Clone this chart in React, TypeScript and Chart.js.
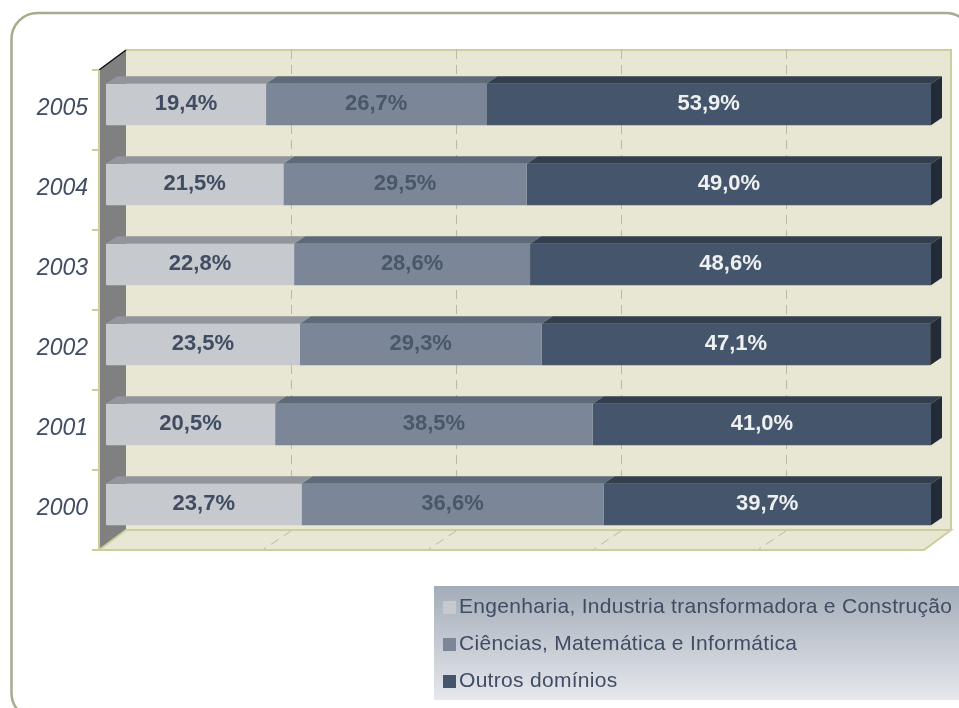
import { useEffect, useRef } from "react";
import { Chart, registerables } from "chart.js";

Chart.register(...registerables);

const categories = ["2005", "2004", "2003", "2002", "2001", "2000"];
const engenharia = [19.4, 21.5, 22.8, 23.5, 20.5, 23.7];
const ciencias = [26.7, 29.5, 28.6, 29.3, 38.5, 36.6];
const outros = [53.9, 49.0, 48.6, 47.1, 41.0, 39.7];
const seriesNames = [
  "Engenharia, Industria transformadora e Construção",
  "Ciências, Matemática e Informática",
  "Outros domínios",
];
const gridValues = [20, 40, 60, 80];

const FRONT_COLORS = ["#c6c9cd", "#7b8799", "#45556b"];
const TOP_COLORS = ["#929599", "#5f6a79", "#343f4e"];
const SIDE_COLORS = ["#6e7174", "#4a5360", "#232b36"];
const LABEL_COLORS = ["#3f4c62", "#4a566a", "#eef0f2"];

const FRONT = { dx: -7, dy: 5.5 };
const DEPTH = { dx: 27, dy: -20 };
const BAR_DEPTH = { dx: 11, dy: -7.5 };

const FONT = "'Liberation Sans', Arial, sans-serif";
const KHAKI = "#cdcd9e";
const CREAM = "#e8e7d4";

const fmt = (v: number) => v.toFixed(1).replace(".", ",") + "%";

const threeD = {
  id: "threeD",
  beforeDraw(chart: any) {
    const ctx = chart.ctx as CanvasRenderingContext2D;
    ctx.save();
    ctx.strokeStyle = "#a9ab8e";
    ctx.lineWidth = 2.5;
    const fx = 11.5, fy = 13, fw = 972 - 11.5, fh = 719 - 13, r = 26;
    ctx.beginPath();
    ctx.moveTo(fx + r, fy);
    ctx.lineTo(fx + fw - r, fy);
    ctx.arcTo(fx + fw, fy, fx + fw, fy + r, r);
    ctx.lineTo(fx + fw, fy + fh - r);
    ctx.arcTo(fx + fw, fy + fh, fx + fw - r, fy + fh, r);
    ctx.lineTo(fx + r, fy + fh);
    ctx.arcTo(fx, fy + fh, fx, fy + fh - r, r);
    ctx.lineTo(fx, fy + r);
    ctx.arcTo(fx, fy, fx + r, fy, r);
    ctx.closePath();
    ctx.stroke();
    ctx.restore();
  },
  beforeDatasetsDraw(chart: any) {
    const ctx = chart.ctx as CanvasRenderingContext2D;
    const ca = chart.chartArea;
    const xs = chart.scales.x;
    const ys = chart.scales.y;
    const x0 = xs.getPixelForValue(0) + FRONT.dx;
    const x100 = xs.getPixelForValue(100) + FRONT.dx;
    const yTop = ca.top + FRONT.dy;
    const yBot = ca.bottom + FRONT.dy;
    const bx0 = x0 + DEPTH.dx;
    const bx100 = x100 + DEPTH.dx;
    const byTop = yTop + DEPTH.dy;
    const byBot = yBot + DEPTH.dy;

    ctx.save();
    ctx.fillStyle = CREAM;
    ctx.fillRect(bx0, byTop, bx100 - bx0, byBot - byTop);
    ctx.strokeStyle = KHAKI;
    ctx.lineWidth = 2;
    ctx.beginPath();
    ctx.moveTo(bx0, byTop);
    ctx.lineTo(bx100, byTop);
    ctx.lineTo(bx100, byBot);
    ctx.stroke();

    ctx.strokeStyle = "#b9b9a6";
    ctx.lineWidth = 1;
    ctx.setLineDash([9, 6]);
    for (const v of gridValues) {
      const gx = Math.round(xs.getPixelForValue(v) + FRONT.dx + DEPTH.dx) + 0.5;
      ctx.beginPath();
      ctx.moveTo(gx, byTop);
      ctx.lineTo(gx, byBot);
      ctx.stroke();
    }
    ctx.setLineDash([]);

    ctx.fillStyle = "#808080";
    ctx.beginPath();
    ctx.moveTo(x0, yTop);
    ctx.lineTo(bx0, byTop);
    ctx.lineTo(bx0, byBot);
    ctx.lineTo(x0, yBot);
    ctx.closePath();
    ctx.fill();
    ctx.strokeStyle = "#111111";
    ctx.lineWidth = 1.5;
    ctx.beginPath();
    ctx.moveTo(x0, yTop);
    ctx.lineTo(bx0, byTop);
    ctx.stroke();

    ctx.fillStyle = CREAM;
    ctx.beginPath();
    ctx.moveTo(x0, yBot);
    ctx.lineTo(bx0, byBot);
    ctx.lineTo(bx100, byBot);
    ctx.lineTo(x100, yBot);
    ctx.closePath();
    ctx.fill();
    ctx.strokeStyle = KHAKI;
    ctx.lineWidth = 2;
    ctx.stroke();

    ctx.strokeStyle = "#b9b9a6";
    ctx.lineWidth = 1;
    ctx.setLineDash([9, 6]);
    for (const v of gridValues) {
      const gx = xs.getPixelForValue(v) + FRONT.dx;
      ctx.beginPath();
      ctx.moveTo(gx + DEPTH.dx, byBot + 1);
      ctx.lineTo(gx, yBot - 1);
      ctx.stroke();
    }
    ctx.setLineDash([]);

    ctx.strokeStyle = KHAKI;
    ctx.lineWidth = 2;
    ctx.beginPath();
    ctx.moveTo(x0, yTop);
    ctx.lineTo(x0, yBot);
    ctx.stroke();
    const half = (ys.getPixelForValue(1) - ys.getPixelForValue(0)) / 2;
    for (let i = 0; i <= categories.length; i++) {
      const ty = ys.getPixelForValue(0) - half + i * 2 * half + FRONT.dy;
      ctx.beginPath();
      ctx.moveTo(x0 - 7, ty);
      ctx.lineTo(x0, ty);
      ctx.stroke();
    }

    ctx.fillStyle = "#3f4c62";
    ctx.font = `italic 23px ${FONT}`;
    ctx.textAlign = "right";
    ctx.textBaseline = "middle";
    chart.data.labels.forEach((lab: string, i: number) => {
      ctx.fillText(lab, x0 - 11, ys.getPixelForValue(i) + FRONT.dy - 1);
    });
    ctx.restore();
  },
  afterDatasetsDraw(chart: any) {
    const ctx = chart.ctx as CanvasRenderingContext2D;
    const n = chart.data.datasets.length;
    ctx.save();
    for (let d = 0; d < n; d++) {
      const meta = chart.getDatasetMeta(d);
      meta.data.forEach((el: any) => {
        const left = Math.min(el.base, el.x);
        const right = Math.max(el.base, el.x);
        const top = el.y - el.height / 2;
        const bottom = el.y + el.height / 2;
        ctx.fillStyle = TOP_COLORS[d];
        ctx.beginPath();
        ctx.moveTo(left, top);
        ctx.lineTo(right, top);
        ctx.lineTo(right + BAR_DEPTH.dx, top + BAR_DEPTH.dy);
        ctx.lineTo(left + BAR_DEPTH.dx, top + BAR_DEPTH.dy);
        ctx.closePath();
        ctx.fill();
        if (d === n - 1) {
          ctx.fillStyle = SIDE_COLORS[d];
          ctx.beginPath();
          ctx.moveTo(right, top);
          ctx.lineTo(right + BAR_DEPTH.dx, top + BAR_DEPTH.dy);
          ctx.lineTo(right + BAR_DEPTH.dx, bottom + BAR_DEPTH.dy);
          ctx.lineTo(right, bottom);
          ctx.closePath();
          ctx.fill();
        }
      });
    }
    ctx.font = `bold 22px ${FONT}`;
    ctx.textAlign = "center";
    ctx.textBaseline = "middle";
    for (let d = 0; d < n; d++) {
      const meta = chart.getDatasetMeta(d);
      const vals = chart.data.datasets[d].data as number[];
      meta.data.forEach((el: any, i: number) => {
        ctx.fillStyle = LABEL_COLORS[d];
        ctx.fillText(fmt(vals[i]), (el.base + el.x) / 2, el.y - 1);
      });
    }
    ctx.restore();
  },
  afterDraw(chart: any) {
    const ctx = chart.ctx as CanvasRenderingContext2D;
    ctx.save();
    const lx = 434, ly = 586, lw = 959 - 434, lh = 114;
    const g = ctx.createLinearGradient(0, ly, 0, ly + lh);
    g.addColorStop(0, "#a3acb9");
    g.addColorStop(1, "#e6e8ec");
    ctx.fillStyle = g;
    ctx.fillRect(lx, ly, lw, lh);
    ctx.font = `21px ${FONT}`;
    (ctx as any).letterSpacing = "0.3px";
    ctx.textAlign = "left";
    ctx.textBaseline = "middle";
    chart.data.datasets.forEach((ds: any, i: number) => {
      const cy = 607.5 + i * 37;
      ctx.fillStyle = ds.backgroundColor;
      ctx.fillRect(443, cy - 6.5, 13, 13);
      ctx.fillStyle = "#3f4c62";
      ctx.fillText(ds.label, 459, cy);
    });
    ctx.restore();
  },
};

export default function App() {
  const ref = useRef<HTMLCanvasElement | null>(null);
  useEffect(() => {
    if (!ref.current) return;
    const series = [engenharia, ciencias, outros];
    const chart = new Chart(ref.current, {
      type: "bar",
      data: {
        labels: categories,
        datasets: series.map((s, i) => ({
          label: seriesNames[i],
          data: s,
          backgroundColor: FRONT_COLORS[i],
          borderWidth: 0,
          barPercentage: 0.52,
          categoryPercentage: 1,
        })),
      },
      options: {
        indexAxis: "y",
        responsive: false,
        maintainAspectRatio: false,
        animation: false,
        devicePixelRatio: 1,
        layout: { padding: { left: 106, right: 28, top: 64.5, bottom: 163.5 } },
        scales: {
          x: { type: "linear", min: 0, max: 100, stacked: true, display: false },
          y: { type: "category", stacked: true, display: false },
        },
        plugins: {
          legend: { display: false },
          tooltip: { enabled: false },
        },
      },
      plugins: [threeD],
    });
    return () => chart.destroy();
  }, []);
  return (
    <canvas
      ref={ref}
      width={959}
      height={708}
      style={{ position: "fixed", left: 0, top: 0, display: "block" }}
    />
  );
}
